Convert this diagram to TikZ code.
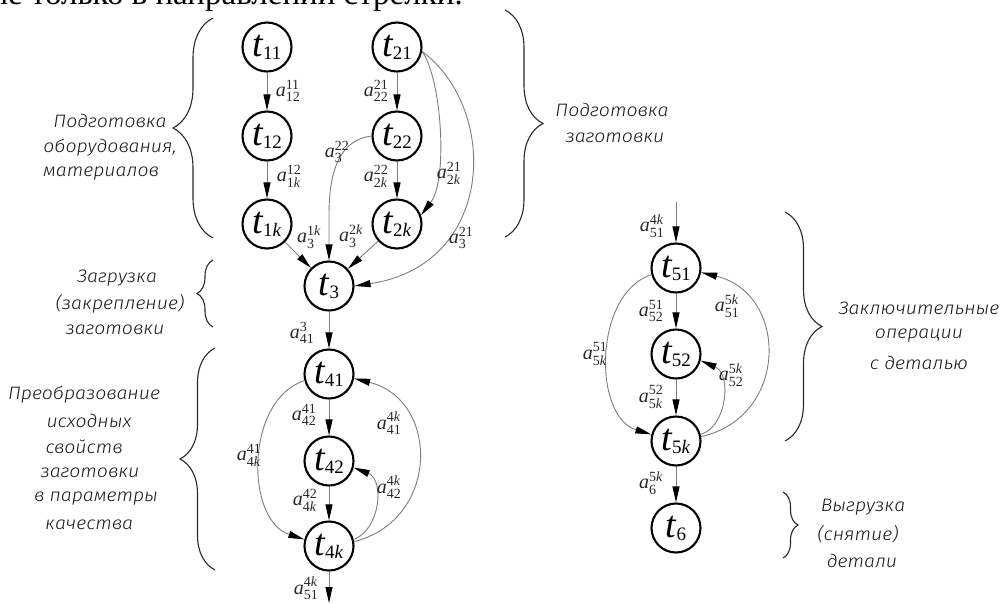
\documentclass[tikz,border=0pt]{standalone}
\usepackage{fontspec}
\usepackage{amsmath}
\setmainfont{Liberation Serif}
\newfontfamily\gost{Fira Sans Light Italic}[FakeStretch=1.08]
\usetikzlibrary{arrows.meta,decorations.pathreplacing}
\definecolor{edg}{RGB}{125,125,125}
\definecolor{ink}{RGB}{40,40,40}
\definecolor{gink}{RGB}{25,25,25}
\newcommand\tnode[1]{{\fontsize{38}{38}\selectfont\itshape t}\raisebox{-3pt}{\fontsize{19}{19}\selectfont #1}}
\newcommand\alab[2]{$\textit{a}^{\text{#1}}_{\text{#2}}$}
\begin{document}
\begin{tikzpicture}[x=1pt,y=-1pt,
  tn/.style={circle,draw=black,line width=2.1pt,minimum size=49pt,inner sep=0pt},
  ar/.style={draw=edg,line width=0.9pt,-{Triangle[length=16pt,width=7pt,color=black,fill=black]}},
  lb/.style={inner sep=0pt,text=ink,font=\fontsize{20}{20}\selectfont},
  gt/.style={inner sep=0pt,text=gink,font=\gost\fontsize{18}{18}\selectfont},
  br/.style={draw=ink,line width=1.1pt,decorate,decoration={brace,amplitude=#1}}]
\useasboundingbox (0,0) rectangle (1000,603);
\clip (0,0) rectangle (1000,603);
% cut-off text of the previous line
\node[anchor=base east,inner sep=0pt,font=\fontsize{33}{33}\selectfont] (prev) at (463,4.5) {не только в направлении стрелки.};
% nodes
\node[tn] (t11) at (267,47) {\tnode{11}};
\node[tn] (t21) at (397,47) {\tnode{21}};
\node[tn] (t12) at (267,136) {\tnode{12}};
\node[tn] (t22) at (397,136) {\tnode{22}};
\node[tn] (t1k) at (267,224) {\tnode{1\textit{k}}};
\node[tn] (t2k) at (397,224) {\tnode{2\textit{k}}};
\node[tn] (t3) at (329,286) {\tnode{3}};
\node[tn] (t41) at (329,374) {\tnode{41}};
\node[tn] (t42) at (329,461) {\tnode{42}};
\node[tn] (t4k) at (329,546) {\tnode{4\textit{k}}};
\coordinate (out4) at (329,603);
\coordinate (in5) at (676,202);
\node[tn] (t51) at (676,268) {\tnode{51}};
\node[tn] (t52) at (676,354) {\tnode{52}};
\node[tn] (t5k) at (676,441) {\tnode{5\textit{k}}};
\node[tn] (t6) at (676,528) {\tnode{6}};
% edges left
\draw[ar] (t11) -- (t12);
\draw[ar] (t12) -- (t1k);
\draw[ar] (t21) -- (t22);
\draw[ar] (t22) -- (t2k);
\draw[ar] (t22.west) .. controls (340,140) and (329,170) .. (329,215) -- (t3.north);
\draw[ar] (t1k) -- (t3);
\draw[ar] (t2k) -- (t3);
\draw[ar] (t21.-10) .. controls (442,80) and (448,180) .. (t2k.20);
\draw[ar] (t21.-10) .. controls (500,110) and (495,265) .. (t3.east);
\draw[ar] (t3) -- (t41);
\draw[ar] (t41) -- (t42);
\draw[ar] (t42) -- (t4k);
\draw[ar] (t41.195) .. controls (245,400) and (245,520) .. (t4k.165);
\draw[ar] (t4k.10) .. controls (440,520) and (440,400) .. (t41.-10);
\draw[ar] (t4k.15) .. controls (380,530) and (385,480) .. (t42.-15);
\draw[ar] (t4k) -- (out4);
% edges right
\draw[ar] (in5) -- (t51);
\draw[ar] (t51) -- (t52);
\draw[ar] (t52) -- (t5k);
\draw[ar] (t51.195) .. controls (593,294) and (593,417) .. (t5k.165);
\draw[ar] (t5k.10) .. controls (789,417) and (789,294) .. (t51.-10);
\draw[ar] (t5k.15) .. controls (727,427) and (732,374) .. (t52.-15);
\draw[ar] (t5k) -- (t6);
% edge labels
\node[lb] (l1) at (288,91) {\alab{11}{12}};
\node[lb] (l2) at (289,176) {\alab{12}{1\textit{k}}};
\node[lb] (l3) at (376,91) {\alab{21}{22}};
\node[lb] (l4) at (376,176) {\alab{22}{2\textit{k}}};
\node[lb] (l5) at (337,152) {\alab{22}{3}};
\node[lb] (l6) at (309,237) {\alab{1\textit{k}}{3}};
\node[lb] (l7) at (351,236) {\alab{2\textit{k}}{3}};
\node[lb] (l8) at (449,173) {\alab{21}{2\textit{k}}};
\node[lb] (l9) at (461,238) {\alab{21}{3}};
\node[lb] (l10) at (302,333) {\alab{3}{41}};
\node[lb] (l11) at (304,415) {\alab{41}{42}};
\node[lb] (l12) at (305,500) {\alab{42}{4\textit{k}}};
\node[lb] (l13) at (249,455) {\alab{41}{4\textit{k}}};
\node[lb] (l14) at (389,423) {\alab{4\textit{k}}{41}};
\node[lb] (l15) at (389,487) {\alab{4\textit{k}}{42}};
\node[lb] (l16) at (306,588) {\alab{4\textit{k}}{51}};
\node[lb] (l17) at (652,226) {\alab{4\textit{k}}{51}};
\node[lb] (l18) at (651,311) {\alab{51}{52}};
\node[lb] (l19) at (651,397) {\alab{52}{5\textit{k}}};
\node[lb] (l20) at (595,354) {\alab{51}{5\textit{k}}};
\node[lb] (l21) at (727,306) {\alab{5\textit{k}}{51}};
\node[lb] (l22) at (731,375) {\alab{5\textit{k}}{52}};
\node[lb] (l23) at (651,483) {\alab{5\textit{k}}{6}};
% braces
\draw[br=40pt] (213,238) -- (213,18);
\draw[br=16pt] (213,327) -- (213,260);
\draw[br=35pt] (215,570) -- (215,348);
\draw[br=38pt] (505,10) -- (505,237);
\draw[br=37pt] (785,212) -- (785,441);
\draw[br=15pt] (783,492) -- (783,558);
% group texts
\node[gt] (g1a) at (110,121) {Подготовка};
\node[gt] (g1b) at (110,148) {оборудования,};
\node[gt] (g1c) at (101,174) {материалов};
\node[gt] (g2a) at (117,278) {Загрузка};
\node[gt] (g2b) at (120,304) {(закрепление)};
\node[gt] (g2c) at (115,330) {заготовки};
\node[gt] (g3a) at (84,395) {Преобразование};
\node[gt] (g3b) at (89,421) {исходных};
\node[gt] (g3c) at (84,447) {свойств};
\node[gt] (g3d) at (90,473) {заготовки};
\node[gt] (g3e) at (96,499) {в параметры};
\node[gt] (g3f) at (89,525) {качества};
\node[gt] (g4a) at (612,110) {Подготовка};
\node[gt] (g4b) at (615,138) {заготовки};
\node[gt] (g5a) at (919,308) {Заключительные};
\node[gt] (g5b) at (919,336) {операции};
\node[gt] (g5c) at (919,363) {с деталью};
\node[gt] (g6a) at (863,507) {Выгрузка};
\node[gt] (g6b) at (858,534) {(снятие)};
\node[gt] (g6c) at (862,561) {детали};
\end{tikzpicture}
\end{document}
